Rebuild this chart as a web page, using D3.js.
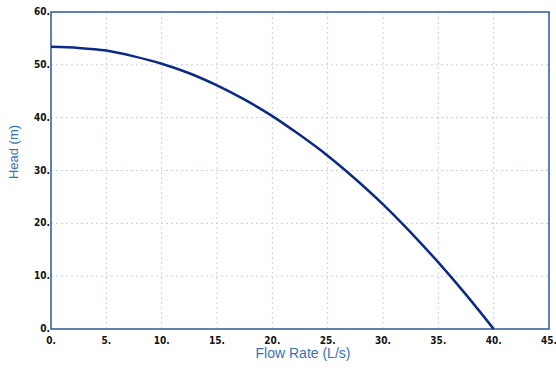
<!DOCTYPE html>
<html>
<head>
<meta charset="utf-8">
<script src="https://cdn.jsdelivr.net/npm/d3@7"></script>
<style>
  body { margin: 0; background: #fff; }
  svg { display: block; }
</style>
</head>
<body>
<script>
// pump curve
const flow = [0, 2.5, 5, 7.5, 10, 12.5, 15, 17.5, 20, 22.5, 25, 27.5, 30, 32.5, 35, 37.5, 40];
const head = [53.4, 53.2, 52.7, 51.6, 50.2, 48.4, 46.1, 43.4, 40.3, 36.7, 32.8, 28.4, 23.6, 18.3, 12.6, 6.5, 0];
const xTicks = [0, 5, 10, 15, 20, 25, 30, 35, 40, 45];
const yTicks = [0, 10, 20, 30, 40, 50, 60];

const svgWidth = 556, svgHeight = 375;
const margin = {top: 12, right: 7, bottom: 46, left: 51};

const svg = d3.select("body")
    .append("svg")
    .attr("width", svgWidth)
    .attr("height", svgHeight);

const xScale = d3.scaleLinear()
    .domain([0, 45])
    .range([margin.left, svgWidth - margin.right]);

const yScale = d3.scaleLinear()
    .domain([0, 60])
    .range([svgHeight - margin.bottom, margin.top]);

// dotted grid
svg.append("g")
    .selectAll("line")
    .data(xTicks.slice(1, -1))
    .enter()
    .append("line")
    .attr("x1", d => xScale(d)).attr("x2", d => xScale(d))
    .attr("y1", yScale(0)).attr("y2", yScale(60))
    .attr("stroke", "#c3cfe6")
    .attr("stroke-dasharray", "2,3");

svg.append("g")
    .selectAll("line")
    .data(yTicks.slice(1, -1))
    .enter()
    .append("line")
    .attr("x1", xScale(0)).attr("x2", xScale(45))
    .attr("y1", d => yScale(d)).attr("y2", d => yScale(d))
    .attr("stroke", "#c3cfe6")
    .attr("stroke-dasharray", "2,3");

// frame
svg.append("rect")
    .attr("x", xScale(0))
    .attr("y", yScale(60))
    .attr("width", xScale(45) - xScale(0))
    .attr("height", yScale(0) - yScale(60))
    .attr("fill", "none")
    .attr("stroke", "#2b5894")
    .attr("stroke-width", 1.5);

// tick labels
const tickFont = "'DejaVu Sans Condensed', 'DejaVu Sans', sans-serif";

svg.append("g")
    .selectAll("text")
    .data(xTicks)
    .enter()
    .append("text")
    .attr("x", d => xScale(d))
    .attr("y", yScale(0) + 15)
    .attr("text-anchor", "middle")
    .attr("font-family", tickFont)
    .attr("font-stretch", "condensed")
    .attr("font-weight", "bold")
    .attr("font-size", 10)
    .attr("fill", "#111")
    .text(d => d + ".");

svg.append("g")
    .selectAll("text")
    .data(yTicks)
    .enter()
    .append("text")
    .attr("x", xScale(0) - 1)
    .attr("y", d => yScale(d) + 3)
    .attr("text-anchor", "end")
    .attr("font-family", tickFont)
    .attr("font-stretch", "condensed")
    .attr("font-weight", "bold")
    .attr("font-size", 10)
    .attr("fill", "#111")
    .text(d => d + ".");

// axis titles
svg.append("text")
    .attr("x", 303)
    .attr("y", 358)
    .attr("text-anchor", "middle")
    .attr("font-family", "'Liberation Sans', Arial, sans-serif")
    .attr("font-size", 14)
    .attr("fill", "#3572b8")
    .text("Flow Rate (L/s)");

svg.append("text")
    .attr("transform", "translate(18,152) rotate(-90)")
    .attr("text-anchor", "middle")
    .attr("font-family", "'Liberation Sans', Arial, sans-serif")
    .attr("font-size", 13)
    .attr("fill", "#3572b8")
    .text("Head (m)");

// curve
const line = d3.line()
    .x(d => xScale(d[0]))
    .y(d => yScale(d[1]))
    .curve(d3.curveMonotoneX);

svg.append("path")
    .datum(flow.map((q, i) => [q, head[i]]))
    .attr("d", line)
    .attr("fill", "none")
    .attr("stroke", "#0c2a85")
    .attr("stroke-width", 2.5);
</script>
</body>
</html>
